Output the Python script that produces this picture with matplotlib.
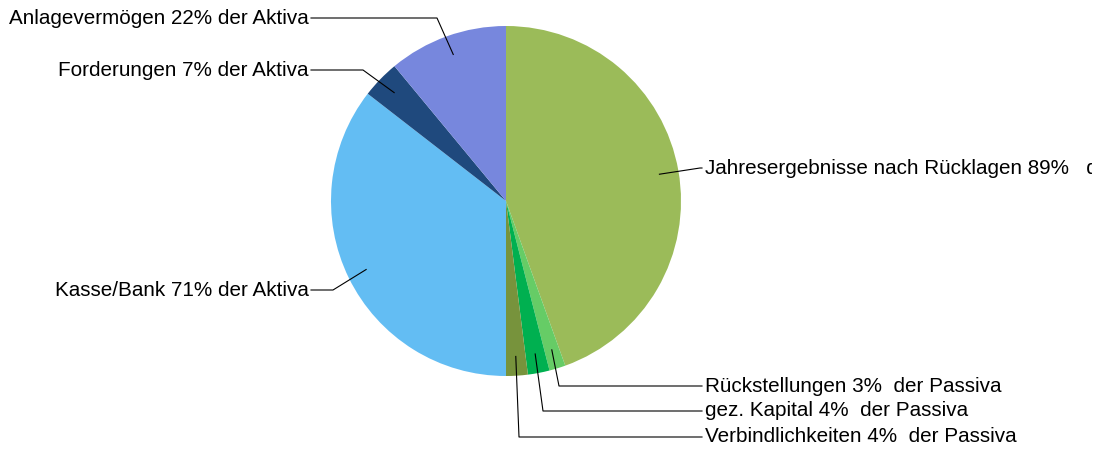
import numpy as np
import matplotlib.pyplot as plt
from matplotlib.patches import Rectangle

# Anteile: Passiva (rechte Hälfte) und Aktiva (linke Hälfte), jeweils 100 %
labels = [
    "Jahresergebnisse nach Rücklagen 89%   der Passiva",
    "Rückstellungen 3%  der Passiva",
    "gez. Kapital 4%  der Passiva",
    "Verbindlichkeiten 4%  der Passiva",
    "Kasse/Bank 71% der Aktiva",
    "Forderungen 7% der Aktiva",
    "Anlagevermögen 22% der Aktiva",
]
percent = [89, 3, 4, 4, 71, 7, 22]
colors = ["#9BBB59", "#66CC66", "#00B050", "#77933C",
          "#63BDF3", "#1F497D", "#7787DD"]

plt.rcParams["font.family"] = ["Liberation Sans", "DejaVu Sans"]

W, H = 1102, 450
fig = plt.figure(figsize=(W / 100, H / 100), dpi=100)
ax = fig.add_axes([0, 0, 1, 1])
ax.set_aspect("equal")

cx, cy, r = 506, H - 201, 175
wedges, _ = ax.pie(percent, colors=colors, startangle=90, counterclock=False,
                   radius=r, center=(cx, cy), frame=True)
ax.set_xlim(0, W)
ax.set_ylim(0, H)
ax.axis("off")

# chart area ends a little before the right edge -> long label is cut there
clip = Rectangle((0, 0), 1092, H, transform=ax.transData)

# label anchor: (text y from top, elbow x, elbow y from top, side)
layout = [
    (168, 700, 168, "right"),
    (386, 559, 386, "right"),
    (411, 543, 411, "right"),
    (437, 519, 437, "right"),
    (290, 333, 290, "left"),
    (70, 363, 70, "left"),
    (18, 437, 18, "left"),
]

for w, lab, (ty, ex, ey, side) in zip(wedges, labels, layout):
    mid = np.deg2rad((w.theta1 + w.theta2) / 2)
    px = cx + 0.89 * r * np.cos(mid)
    py = cy + 0.89 * r * np.sin(mid)
    if side == "right":
        tx = 705
        ax.plot([px, ex, tx - 3], [py, H - ey, H - ty], color="black", lw=0.8)
        t = ax.text(tx, H - ty, lab, ha="left", va="center", fontsize=14.9,
                    clip_on=True)
    else:
        tx = 309
        ax.plot([px, ex, tx + 2], [py, H - ey, H - ty], color="black", lw=0.8)
        t = ax.text(tx, H - ty, lab, ha="right", va="center", fontsize=14.9,
                    clip_on=True)
    t.set_clip_path(clip)

fig.savefig("out.png", dpi=100)
